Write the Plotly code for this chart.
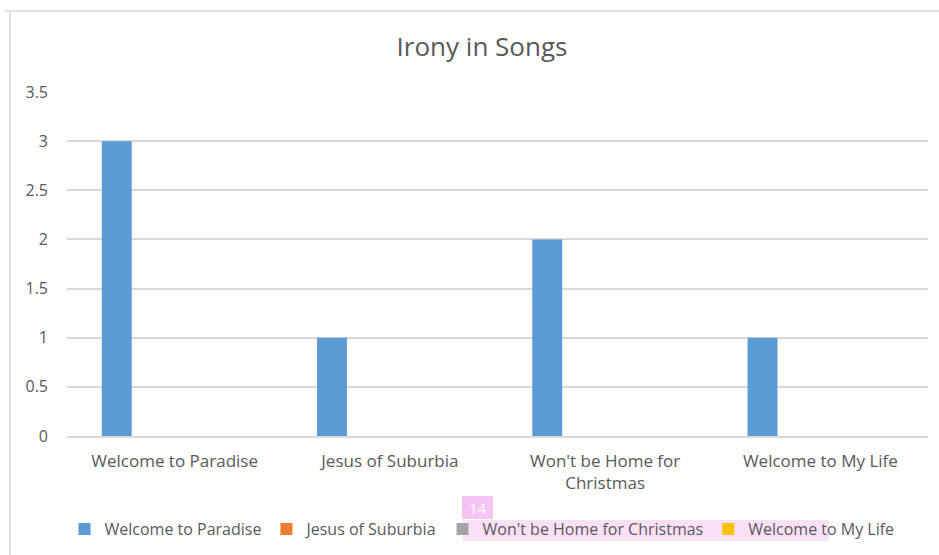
import plotly.graph_objects as go

categories = ["Welcome to Paradise", "Jesus of Suburbia", "Won't be Home for<br>Christmas", "Welcome to My Life"]
series_names = ["Welcome to Paradise", "Jesus of Suburbia", "Won't be Home for Christmas", "Welcome to My Life"]
series_values = [
    [3, 1, 2, 1],
    [None, None, None, None],
    [None, None, None, None],
    [None, None, None, None],
]
series_colors = ["#5b9bd5", "#ed7d31", "#a5a5a5", "#ffc000"]
y_ticks = [0, 0.5, 1, 1.5, 2, 2.5, 3, 3.5]
y_tick_labels = ["0", "0.5", "1", "1.5", "2", "2.5", "3", "3.5"]

W, H = 939, 555
X0, X1, Y0, Y1 = 67, 928, 92, 436

def px(x):
    return (x - X0) / (X1 - X0)

def py(y):
    return (Y1 - y) / (Y1 - Y0)

FONT = "'Open Sans', Lato, sans-serif"
TXT = "#595959"

fig = go.Figure()
for name, vals, col in zip(series_names, series_values, series_colors):
    fig.add_trace(go.Bar(x=categories, y=vals, name=name, marker=dict(color=col, line=dict(width=0))))

shapes = [
    # chart area border (top and left)
    dict(type="line", xref="paper", yref="paper", x0=px(5), x1=px(939), y0=py(11), y1=py(11),
         line=dict(color="#d9d9d9", width=1.5)),
    dict(type="line", xref="paper", yref="paper", x0=px(10), x1=px(10), y0=py(11), y1=py(555),
         line=dict(color="#d9d9d9", width=1.5)),
    # pink highlight behind legend text
    dict(type="rect", xref="paper", yref="paper", x0=px(463), x1=px(829), y0=py(541), y1=py(520),
         fillcolor="#fbe1f8", line=dict(width=0), layer="below"),
    # badge
    dict(type="rect", xref="paper", yref="paper", x0=px(462), x1=px(493), y0=py(519), y1=py(496),
         fillcolor="#f6c4f3", line=dict(width=0), layer="below"),
]

fig.update_layout(
    width=W, height=H,
    margin=dict(l=X0, r=W - X1, t=Y0, b=H - Y1, autoexpand=False),
    paper_bgcolor="white", plot_bgcolor="white",
    font=dict(family=FONT, color=TXT),
    title=dict(text="Irony in Songs", x=482 / W, xanchor="center", xref="container",
               y=1 - 47 / H, yanchor="middle", yref="container",
               font=dict(size=26, color=TXT, family=FONT)),
    barmode="group", bargap=0.283, bargroupgap=0.225,
    showlegend=True,
    legend=dict(orientation="h", x=px(482), xanchor="center", y=py(529), yanchor="middle",
                font=dict(size=16, color=TXT, family=FONT), bgcolor="rgba(0,0,0,0)",
                itemclick=False),
    shapes=shapes,
    annotations=[dict(text="14", xref="paper", yref="paper", x=px(477.5), y=py(507.5),
                      showarrow=False, font=dict(size=15, color="white", family=FONT),
                      xanchor="center", yanchor="middle")],
    xaxis=dict(showgrid=False, showline=True, linecolor="#d9d9d9", linewidth=1.5, ticks="",
               tickfont=dict(size=17, color=TXT, family=FONT), ticklabelstandoff=9,
               zeroline=False),
    yaxis=dict(range=[0, 3.5], tickvals=y_ticks, ticktext=y_tick_labels, showgrid=True,
               gridcolor="#d9d9d9", gridwidth=1.5, zeroline=False, showline=False, ticks="",
               tickfont=dict(size=16, color=TXT, family=FONT), ticklabelstandoff=18),
)

fig.write_html("out.html", config={"displayModeBar": False},
               post_script="document.body.style.margin='0';")
